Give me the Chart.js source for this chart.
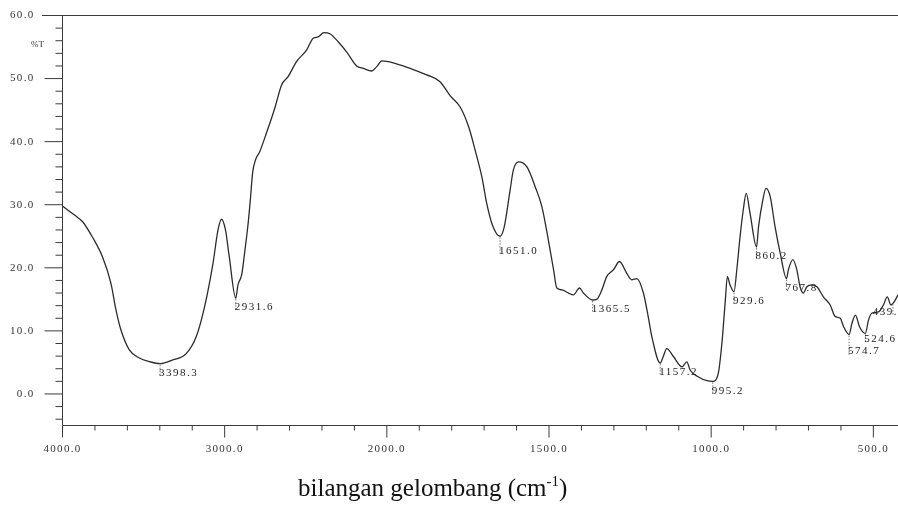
<!DOCTYPE html>
<html lang="id">
<head>
    <meta charset="UTF-8">
    <title>Spektrum IR</title>
    <script src="https://cdn.jsdelivr.net/npm/chart.js"></script>
    <style>
        body {
            margin: 0;
            background: #fff;
        }

        .wrap {
            position: relative;
            width: 898px;
            height: 510px;
        }

        .xtitle {
            position: absolute;
            left: 298px;
            top: 475px;
            font-family: 'Liberation Serif', serif;
            font-size: 25px;
            line-height: 1;
            color: #111;
            white-space: nowrap;
        }

        .xtitle sup {
            font-size: 15px;
            vertical-align: 10px;
            line-height: 0;
        }
    </style>
</head>
<body>
    <div class="wrap">
        <canvas id="irChart" width="898" height="510"></canvas>
        <div class="xtitle">bilangan gelombang (cm<sup>-1</sup>)</div>
    </div>

    <script>
        // wavenumber (cm-1) and %T
        const waveNum = [4000, 3928, 3876, 3814, 3753, 3701, 3670, 3639, 3588, 3526, 3460, 3398.3, 3320, 3237, 3175, 3124, 3072, 3041, 3020, 2995,
            2972, 2931.6, 2918, 2895, 2875, 2855, 2840, 2828, 2810, 2784, 2742, 2691, 2649, 2609, 2557, 2495, 2454, 2423, 2388, 2351,
            2299, 2247, 2186, 2145, 2093, 2062, 2031, 1980, 1928, 1877, 1836, 1805, 1774, 1748, 1728, 1707, 1692, 1676, 1651, 1638,
            1620, 1610, 1594, 1568, 1543, 1522, 1502, 1486, 1476, 1460, 1440, 1425, 1406, 1394, 1365.5, 1353, 1337, 1322, 1301, 1283,
            1260, 1245, 1229, 1209, 1195, 1183, 1157.2, 1148, 1137, 1116, 1090, 1075, 1065, 1039, 1013, 995.2, 978, 967, 957, 950,
            942, 929.6, 921, 911, 901, 892, 880, 860.2, 854, 841, 831, 818, 803, 787, 767.8, 762, 748, 736, 726, 716,
            705, 690, 674, 654, 633, 618, 602, 592, 574.7, 566, 555, 543, 524.6, 515, 505, 484, 469, 457, 446, 436, 424];
        const transmit = [29.8, 28.4, 27.3, 24.8, 21.7, 17.5, 13.3, 10.1, 7.0, 5.7, 5.1, 4.8, 5.4, 6.4, 9.1, 13.8, 20.7, 26.0, 27.7, 26.0,
            21.8, 15.2, 17.3, 18.9, 22.8, 27.1, 31.3, 35.0, 37.1, 38.4, 41.4, 45.3, 49.0, 50.3, 52.7, 54.5, 56.4, 56.6, 57.3, 57.1,
            55.8, 54.2, 52.0, 51.6, 51.2, 51.9, 52.8, 52.5, 51.6, 50.6, 49.5, 47.3, 45.5, 42.4, 38.7, 34.4, 30.2, 27.0, 25.0, 26.5,
            32.3, 35.5, 36.8, 36.0, 32.9, 29.7, 24.4, 19.7, 16.8, 16.5, 16.0, 15.7, 16.8, 16.0, 14.9, 15.0, 16.5, 18.6, 19.7, 21.0,
            19.1, 18.1, 18.3, 16.0, 12.5, 9.1, 4.9, 5.9, 7.2, 5.9, 4.3, 5.1, 3.8, 2.7, 2.1, 2.0, 3.3, 8.0, 14.4, 18.6,
            17.3, 16.2, 19.7, 24.9, 29.2, 31.8, 28.6, 23.3, 26.5, 30.7, 32.6, 31.3, 26.5, 22.3, 18.3, 19.7, 21.3, 19.7, 17.0, 16.0,
            17.0, 17.3, 17.0, 15.4, 14.1, 12.3, 12.0, 10.7, 9.4, 11.2, 12.5, 10.7, 9.6, 11.7, 12.8, 13.0, 14.1, 15.4, 14.1, 14.6, 15.7];

        // labelled peaks
        const peakNums = [3398.3, 2931.6, 1651.0, 1365.5, 1157.2, 995.2, 929.6, 860.2, 767.8, 574.7, 524.6, 439.7];
        const peakText = ["3398.3", "2931.6", "1651.0", "1365.5", "1157.2", "995.2", "929.6", "860.2", "767.8", "574.7", "524.6", "439.7"];

        const xLabels = [4000, 3000, 2000, 1500, 1000, 500];
        const yLabels = [0, 10, 20, 30, 40, 50, 60];

        const LABEL_FONT = "11px 'Liberation Serif'";
        // a few labels sit lower/higher under their peak in the print
        const labelDrop = { "1651.0": 9, "574.7": 11, "524.6": 0 };

        // spectrometer axis: 4000-2000 at half the scale of 2000-400
        function warp(w) {
            return w >= 2000 ? (4000 - w) / 2 : 1000 + (2000 - w);
        }
        function unwarp(u) {
            return u <= 1000 ? 4000 - u * 2 : 2000 - (u - 1000);
        }

        class WaveScale extends Chart.LinearScale {
            buildTicks() {
                return xLabels.map(v => ({ value: v }));
            }
            getPixelForValue(value) {
                if (value === null || value === undefined) return NaN;
                return this.getPixelForDecimal(warp(value) / warp(this.min));
            }
            getValueForPixel(pixel) {
                return unwarp(this.getDecimalForPixel(pixel) * warp(this.min));
            }
        }
        WaveScale.id = 'wave';
        WaveScale.defaults = Chart.LinearScale.defaults;
        Chart.register(WaveScale);

        function valueAt(w) {
            for (let i = 0; i < waveNum.length - 1; i++) {
                const a = waveNum[i], b = waveNum[i + 1];
                if (w <= a && w >= b) {
                    return transmit[i] + (transmit[i + 1] - transmit[i]) * (a - w) / (a - b);
                }
            }
            return transmit[transmit.length - 1];
        }

        const irMarks = {
            id: 'irMarks',
            beforeDraw(chart) {
                // the plotter's digits are wide; spread the tick labels a little
                chart.ctx.letterSpacing = '1.3px';
            },
            afterDraw(chart) {
                const ctx = chart.ctx;
                const a = chart.chartArea;
                const x = chart.scales.x, y = chart.scales.y;
                ctx.letterSpacing = '0px';
                ctx.save();
                ctx.strokeStyle = '#3a3a3a';
                ctx.lineWidth = 1;
                ctx.beginPath();
                // frame
                ctx.moveTo(42, a.top);
                ctx.lineTo(a.right, a.top);
                ctx.moveTo(a.left, a.top);
                ctx.lineTo(a.left, a.bottom);
                ctx.moveTo(a.left, a.bottom);
                ctx.lineTo(a.right, a.bottom);
                // y ticks
                for (let v = -4; v <= 58; v += 2) {
                    const py = y.getPixelForValue(v);
                    const len = v % 10 === 0 ? 18 : 7;
                    ctx.moveTo(a.left - len, py);
                    ctx.lineTo(a.left, py);
                }
                // x ticks
                const xt = [];
                for (let w = 4000; w >= 2000; w -= 200) xt.push(w);
                for (let w = 1900; w >= 500; w -= 100) xt.push(w);
                xt.forEach(w => {
                    const px = x.getPixelForValue(w);
                    const len = xLabels.includes(w) ? 12 : 5;
                    ctx.moveTo(px, a.bottom);
                    ctx.lineTo(px, a.bottom + len);
                });
                ctx.stroke();

                // %T
                ctx.fillStyle = '#333';
                ctx.font = "9px 'Liberation Serif'";
                ctx.textBaseline = 'middle';
                ctx.fillText('%T', 31, 45);

                // peak labels
                ctx.font = LABEL_FONT;
                ctx.letterSpacing = '1.5px';
                ctx.textBaseline = 'top';
                peakNums.forEach((w, i) => {
                    const px = x.getPixelForValue(w);
                    const py = y.getPixelForValue(valueAt(w));
                    const drop = labelDrop[peakText[i]] !== undefined ? labelDrop[peakText[i]] : 4;
                    ctx.strokeStyle = '#777';
                    ctx.setLineDash([1.5, 1.5]);
                    ctx.beginPath();
                    ctx.moveTo(px, py + 1);
                    ctx.lineTo(px, py + drop + 9);
                    ctx.stroke();
                    const tw = ctx.measureText(peakText[i]).width;
                    const tx = Math.min(px - 1, a.right + 7 - tw);
                    ctx.fillStyle = '#222';
                    ctx.fillText(peakText[i], tx, py + drop);
                });
                ctx.restore();
            }
        };

        new Chart(document.getElementById("irChart"), {
            type: "line",
            data: {
                datasets: [{
                    data: waveNum.map((w, i) => ({ x: w, y: transmit[i] })),
                    borderColor: "#2b2b2b",
                    borderWidth: 1.3,
                    pointRadius: 0,
                    cubicInterpolationMode: "monotone",
                    fill: false
                }]
            },
            options: {
                responsive: false,
                animation: false,
                events: [],
                layout: { padding: { top: 15.5, left: 0, right: 0, bottom: 0 } },
                plugins: {
                    legend: { display: false },
                    tooltip: { enabled: false }
                },
                scales: {
                    x: {
                        type: "wave",
                        min: 424,
                        max: 4000,
                        grid: { display: false },
                        border: { display: false },
                        ticks: {
                            autoSkip: false,
                            maxRotation: 0,
                            padding: 9,
                            color: "#333",
                            font: { family: "'Liberation Serif'", size: 11 },
                            callback: v => Number(v).toFixed(1)
                        },
                        afterFit: s => { s.height = 84.5; }
                    },
                    y: {
                        min: -5,
                        max: 60,
                        grid: { display: false },
                        border: { display: false },
                        afterBuildTicks: s => { s.ticks = yLabels.map(v => ({ value: v })); },
                        ticks: {
                            padding: 20,
                            color: "#333",
                            font: { family: "'Liberation Serif'", size: 11 },
                            callback: v => Number(v).toFixed(1)
                        },
                        afterFit: s => {
                            s.width = 62.5;
                            s.paddingTop = 0;
                            s.paddingBottom = 0;
                        }
                    }
                }
            },
            plugins: [irMarks]
        });
    </script>
</body>
</html>
